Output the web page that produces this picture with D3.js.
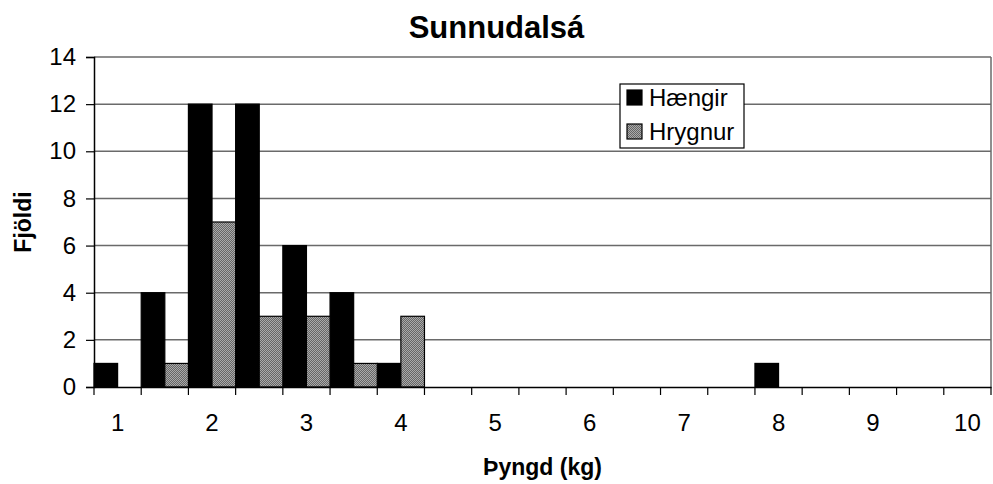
<!DOCTYPE html>
<html>

<head>
    <title>Sunnudalsá</title>
    <script src="https://d3js.org/d3.v7.min.js"></script>
</head>

<body>
    <style>
        * {
            margin: 0;
        }

        body {
            background-color: #ffffff;
            font-family: 'Liberation Sans', Arial, sans-serif;
        }
    </style>
    <div id="chart"></div>

    <script>
        // Weight classes (kg) and counts per class
        const categories = ["1", "1.5", "2", "2.5", "3", "3.5", "4", "4.5", "5", "5.5",
            "6", "6.5", "7", "7.5", "8", "8.5", "9", "9.5", "10"];
        const tickLabels = ["1", "", "2", "", "3", "", "4", "", "5", "",
            "6", "", "7", "", "8", "", "9", "", "10"];
        const haengir = [1, 4, 12, 12, 6, 4, 1, 0, 0, 0, 0, 0, 0, 0, 1, 0, 0, 0, 0];
        const hrygnur = [0, 1, 7, 3, 3, 1, 3, 0, 0, 0, 0, 0, 0, 0, 0, 0, 0, 0, 0];
        const seriesNames = ["Hængir", "Hrygnur"];
        const yTicks = [0, 2, 4, 6, 8, 10, 12, 14];

        const W = 993, H = 484;
        const margin = { top: 57, right: 2, bottom: 97, left: 94 };
        const width = W - margin.left - margin.right;
        const height = H - margin.top - margin.bottom;

        const svg = d3.select("#chart")
            .append("svg")
            .attr("width", W)
            .attr("height", H);

        // patrón gris punteado para Hrygnur
        const defs = svg.append("defs");
        const pat = defs.append("pattern")
            .attr("id", "dots")
            .attr("width", 2)
            .attr("height", 2)
            .attr("patternUnits", "userSpaceOnUse");
        pat.append("rect").attr("width", 2).attr("height", 2).attr("fill", "#aaaaaa");
        pat.append("rect").attr("width", 1).attr("height", 1).attr("fill", "#666666");
        pat.append("rect").attr("x", 1).attr("y", 1).attr("width", 1).attr("height", 1).attr("fill", "#666666");

        const g = svg.append("g")
            .attr("transform", "translate(" + margin.left + "," + margin.top + ")");

        const x = d3.scaleBand()
            .domain(categories)
            .range([0, width])
            .padding(0);

        const xs = d3.scaleBand()
            .domain(seriesNames)
            .range([0, x.bandwidth()])
            .padding(0);

        const y = d3.scaleLinear()
            .domain([0, 14])
            .range([height, 0]);

        // grid lines
        g.selectAll(".grid")
            .data(yTicks.filter(d => d > 0))
            .enter()
            .append("line")
            .attr("x1", 0)
            .attr("x2", width)
            .attr("y1", d => y(d))
            .attr("y2", d => y(d))
            .attr("stroke", "#6a6a6a")
            .attr("stroke-width", 1.5);

        // right border of plot area
        g.append("line")
            .attr("x1", width).attr("x2", width)
            .attr("y1", 0).attr("y2", height)
            .attr("stroke", "#6a6a6a")
            .attr("stroke-width", 1.5);

        const rows = [
            { name: seriesNames[0], values: haengir, fill: "#000000" },
            { name: seriesNames[1], values: hrygnur, fill: "url(#dots)" }
        ];

        rows.forEach(s => {
            g.selectAll(".bar-" + s.name)
                .data(categories.map((c, i) => ({ c: c, v: s.values[i] })).filter(d => d.v > 0))
                .enter()
                .append("rect")
                .attr("x", d => x(d.c) + xs(s.name))
                .attr("y", d => y(d.v))
                .attr("width", xs.bandwidth())
                .attr("height", d => height - y(d.v))
                .attr("fill", s.fill)
                .attr("stroke", "#000")
                .attr("stroke-width", 1.2);
        });

        // ejes
        const xAxis = d3.axisBottom(x)
            .tickSize(0)
            .tickFormat((d, i) => tickLabels[i]);

        const xg = g.append("g")
            .attr("transform", "translate(0," + height + ")")
            .call(xAxis);
        xg.select(".domain").attr("stroke", "#000").attr("stroke-width", 1.5);
        xg.selectAll("text")
            .attr("dy", 0)
            .attr("y", 44)
            .attr("fill", "#000")
            .style("font-size", "24px")
            .style("font-family", "'Liberation Sans', Arial, sans-serif");

        // tick marks at category boundaries
        xg.selectAll(".bound")
            .data(d3.range(categories.length + 1))
            .enter()
            .append("line")
            .attr("x1", i => i * x.step())
            .attr("x2", i => i * x.step())
            .attr("y1", 0)
            .attr("y2", 8)
            .attr("stroke", "#000")
            .attr("stroke-width", 1.2);

        const yAxis = d3.axisLeft(y)
            .tickValues(yTicks)
            .tickSize(8)
            .tickPadding(10);

        const yg = g.append("g").call(yAxis);
        yg.select(".domain").attr("stroke", "#000").attr("stroke-width", 1.5);
        yg.selectAll(".tick line").attr("stroke", "#000").attr("stroke-width", 1.2);
        yg.selectAll("text")
            .attr("fill", "#000")
            .style("font-size", "24px")
            .style("font-family", "'Liberation Sans', Arial, sans-serif");

        // títulos
        svg.append("text")
            .attr("x", W / 2)
            .attr("y", 38)
            .attr("text-anchor", "middle")
            .style("font-size", "31px")
            .style("font-weight", "bold")
            .text("Sunnudalsá");

        svg.append("text")
            .attr("x", margin.left + width / 2)
            .attr("y", 475)
            .attr("text-anchor", "middle")
            .style("font-size", "23px")
            .style("font-weight", "bold")
            .text("Þyngd (kg)");

        svg.append("text")
            .attr("transform", "rotate(-90)")
            .attr("x", -(margin.top + height / 2))
            .attr("y", 31)
            .attr("text-anchor", "middle")
            .style("font-size", "23px")
            .style("font-weight", "bold")
            .text("Fjöldi");

        // leyenda
        const legend = svg.append("g").attr("transform", "translate(620,84)");
        legend.append("rect")
            .attr("width", 124)
            .attr("height", 64)
            .attr("fill", "#fff")
            .attr("stroke", "#000")
            .attr("stroke-width", 1.2);

        rows.forEach((s, i) => {
            const ly = 13 + i * 34;
            legend.append("rect")
                .attr("x", 7)
                .attr("y", ly - 7)
                .attr("width", 15)
                .attr("height", 15)
                .attr("fill", s.fill)
                .attr("stroke", "#000")
                .attr("stroke-width", 1.2);
            legend.append("text")
                .attr("x", 29)
                .attr("y", ly + 9)
                .style("font-size", "24px")
                .text(s.name);
        });
    </script>
</body>

</html>
